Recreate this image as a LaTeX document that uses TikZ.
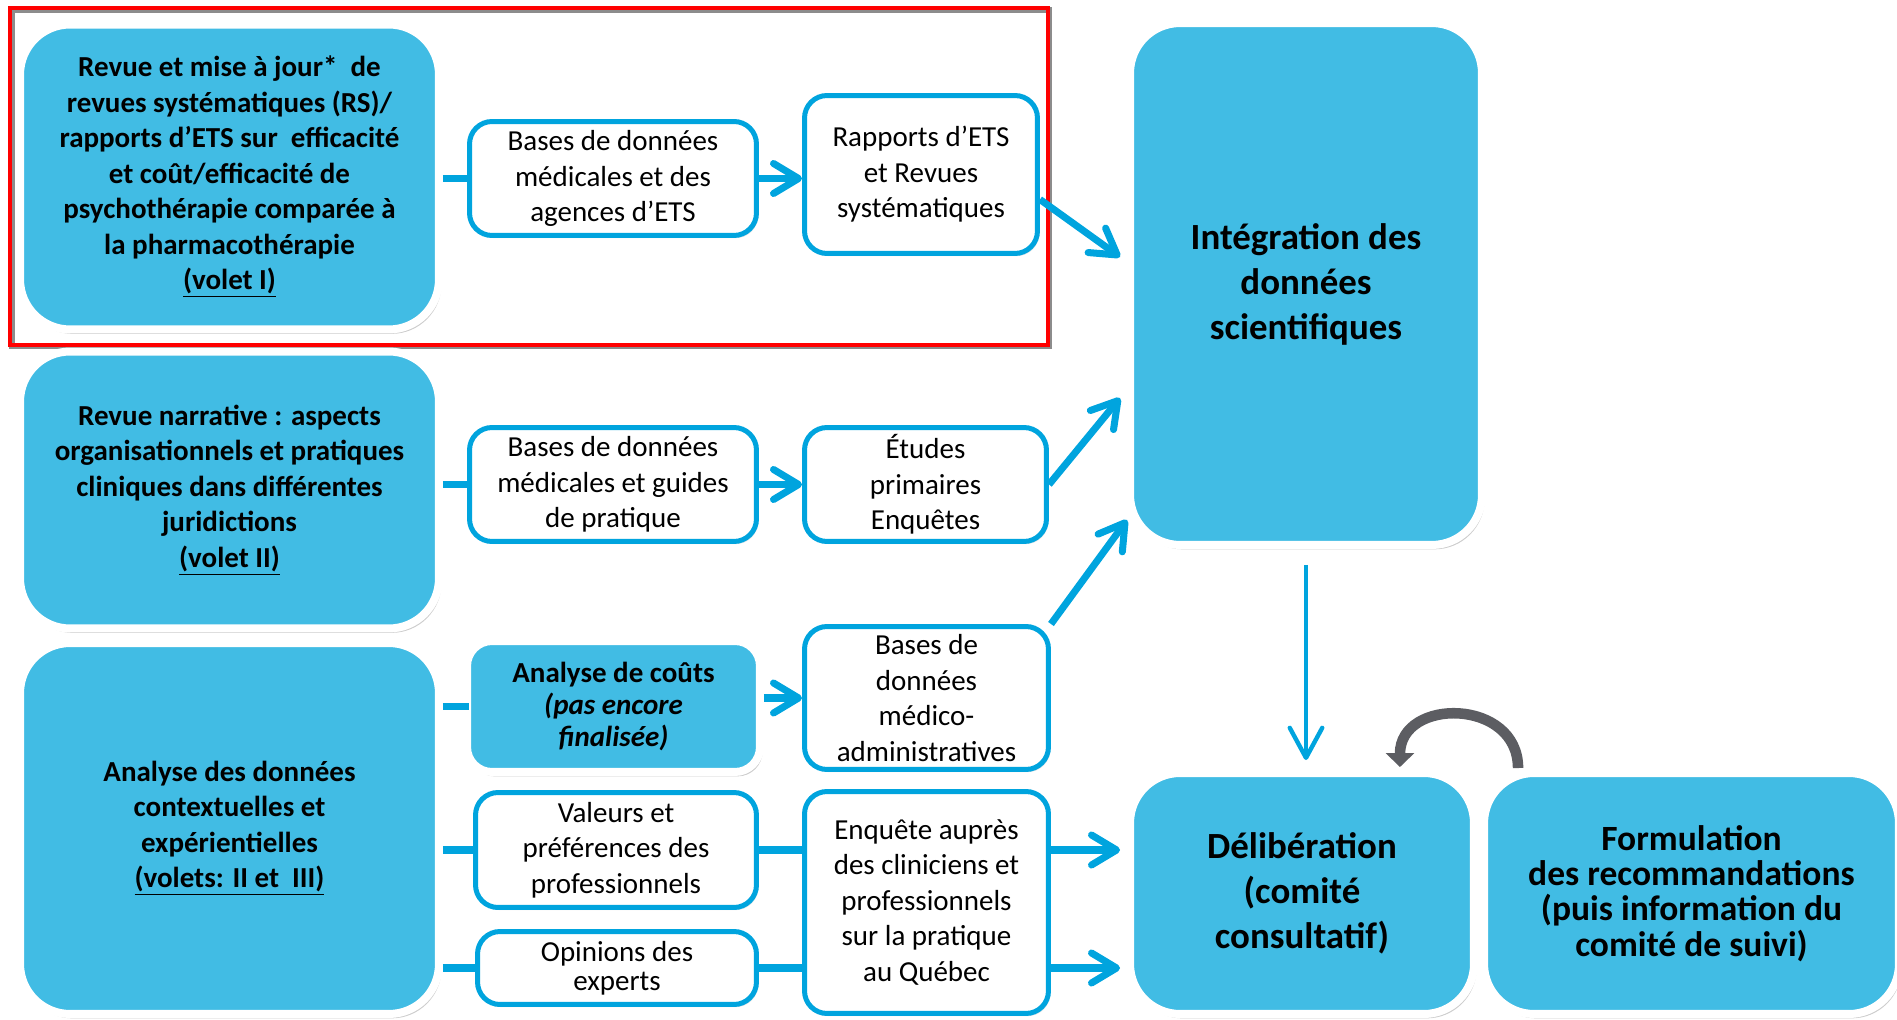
\documentclass[tikz,border=0pt]{standalone}
\usepackage{fontspec}
\setmainfont{Carlito}
\usepackage{tikz}
\usetikzlibrary{positioning}
\usetikzlibrary{arrows.meta}
\usetikzlibrary{calc}
\usetikzlibrary{shadows}
\definecolor{fillblue}{RGB}{65,188,228}
\definecolor{lineblue}{RGB}{0,164,222}
\definecolor{loopgray}{RGB}{92,93,98}
\newcommand{\boxfont}{\fontsize{16.5}{20.2}\selectfont}
\newcommand{\bigboxfont}{\fontsize{21}{25.6}\selectfont}
\newcommand{\formfont}{\fontsize{20.2}{20}\selectfont}
\tikzstyle{bluenode}=[shape=rectangle,rounded corners=1cm,fill=fillblue,draw=white,line width=0.16cm,align=center,inner sep=0pt,font=\bfseries\boxfont,drop shadow={opacity=0.4,shadow xshift=1.5pt,shadow yshift=-2.5pt}]
\tikzstyle{srcnode}=[shape=rectangle,rounded corners=0.45cm,fill=white,draw=lineblue,line width=0.1cm,align=center,inner sep=0pt,font=\boxfont,drop shadow={opacity=0.2,shadow xshift=1pt,shadow yshift=-1.5pt}]
\tikzstyle{bline}=[line width=4pt,color=lineblue]
\tikzstyle{baro}=[-{Straight Barb[length=0.5cm,width=0.6cm,round]},line width=4pt,color=lineblue]
\tikzstyle{daro}=[-{Straight Barb[length=0.6cm,width=0.65cm,round]},line width=2.5pt,color=lineblue]
\tikzstyle{garo}=[-{Triangle[length=0.28cm,width=0.56cm]},line width=6pt,color=loopgray]

\begin{document}
\begin{tikzpicture}[x=0.02cm,y=-0.02cm]
	\useasboundingbox (0,0) rectangle (1897,1020);

	% Volet I
	\node[draw=black!45, line width=0.12cm, minimum width=20.76cm, minimum height=6.74cm] (frameshade) at (530.5,178) {};
	\node[draw=red, line width=0.08cm, minimum width=20.76cm, minimum height=6.74cm] (frame) at (529,176.5) {};
	\node[bluenode, minimum width=8.38cm, minimum height=6.10cm] (a1) at (229.5,177) {Revue et mise à jour*~ de\\revues systématiques (RS)/\\rapports d’ETS sur~ efficacité\\et coût/efficacité de\\psychothérapie comparée à\\la pharmacothérapie\\\underline{(volet I)}};
	\node[srcnode, minimum width=5.74cm, minimum height=2.28cm] (b1) at (613,178.5) {Bases de données\\médicales et des\\agences d’ETS};
	\node[srcnode, minimum width=4.66cm, minimum height=3.16cm] (c1) at (921,174.5) {Rapports d’ETS\\et Revues\\systématiques};
	\draw[bline] (a1.east |- b1.west) -- (b1.west);
	\draw[baro] (b1.east) -- (b1.east -| c1.west);

	% Volet II
	\node[bluenode, minimum width=8.38cm, minimum height=5.54cm] (a2) at (229.5,490) {Revue narrative : aspects\\organisationnels et pratiques\\cliniques dans différentes\\juridictions\\\underline{(volet II)}};
	\node[srcnode, minimum width=5.74cm, minimum height=2.28cm] (b2) at (613,484.5) {Bases de données\\médicales et guides\\de pratique};
	\node[srcnode, minimum width=4.84cm, minimum height=2.28cm] (c2) at (925.5,484.5) {Études\\primaires\\Enquêtes};
	\draw[bline] (a2.east |- b2.west) -- (b2.west);
	\draw[baro] (b2.east) -- (b2.east -| c2.west);

	% Volets II et III
	\node[bluenode, minimum width=8.38cm, minimum height=7.42cm] (a3) at (229.5,828.5) {Analyse des données\\contextuelles et\\expérientielles\\\underline{(volets: II et~ III)}};
	\node[bluenode, rounded corners=0.5cm, minimum width=5.86cm, minimum height=2.62cm, font=\bfseries\fontsize{16.5}{18}\selectfont] (b3) at (613.5,706.5) {Analyse de coûts\\\textit{(pas encore}\\\textit{finalisée)}};
	\node[srcnode, minimum width=4.88cm, minimum height=2.86cm] (c3) at (926.5,698) {Bases de\\données\\médico-\\administratives};
	\node[srcnode, minimum width=5.62cm, minimum height=2.30cm] (b4) at (616,850) {Valeurs et\\préférences des\\professionnels};
	\node[srcnode, minimum width=5.58cm, minimum height=1.46cm, font=\fontsize{16.5}{16.5}\selectfont] (b5) at (617,968) {Opinions des\\experts};
	\node[srcnode, minimum width=4.88cm, minimum height=4.44cm] (c4) at (926.5,902.5) {Enquête auprès\\des cliniciens et\\professionnels\\sur la pratique\\au Québec};
	\draw[bline] (a3.east |- b3.west) -- ($(b3.west)+(6,0)$);
	\draw[baro] (b3.east |- c3.west) -- (c3.west);
	\draw[bline] (a3.east |- b4.west) -- (b4.west);
	\draw[bline] (b4.east) -- (b4.east -| c4.west);
	\draw[bline] (a3.east |- b5.west) -- (b5.west);
	\draw[bline] (b5.east) -- (b5.east -| c4.west);

	% Integration, deliberation, recommandations
	\node[bluenode, font=\bfseries\bigboxfont, minimum width=7.04cm, minimum height=10.44cm] (d1) at (1306,284) {Intégration des\\données\\scientifiques};
	\node[bluenode, font=\bfseries\bigboxfont, minimum width=6.88cm, minimum height=4.82cm] (d2) at (1302,893.5) {Délibération\\(comité\\consultatif)};
	\node[bluenode, font=\bfseries\formfont, minimum width=8.30cm, minimum height=4.82cm] (d3) at (1691.5,893.5) {Formulation\\des recommandations\\(puis information du\\comité de suivi)};
	\draw[baro] ($(c1.east)+(0,25)$) -- ($(d1.west)+(-6,-27)$);
	\draw[baro] (c2.east) -- ($(d1.west)+(-6,114)$);
	\draw[baro] (c3.north east) -- ($(d1.south west)+(1,-29)$);
	\draw[baro] (c4.east |- b4.east) -- ($(d2.west |- b4.east)+(-6,0)$);
	\draw[baro] (c4.east |- b5.east) -- ($(d2.west |- b5.east)+(-6,0)$);
	\draw[daro, shorten <=0.32cm, shorten >=0.18cm] (d1.south) -- (d1.south |- d2.north);
	\draw[garo] ($(d3.north west)+(38,-1)$) .. controls +(0,-70) and +(0,-70) .. ($(d2.north east)+(-78,-2)$);

\end{tikzpicture}
\end{document}
